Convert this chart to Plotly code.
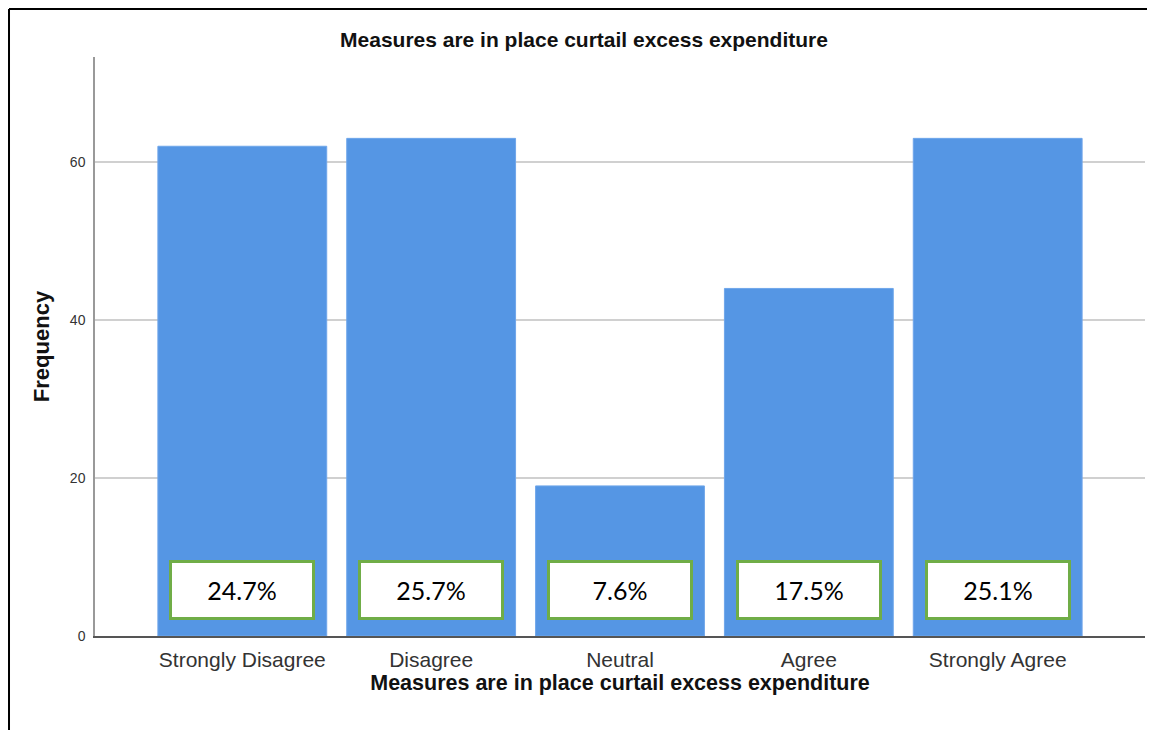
import plotly.graph_objects as go

categories = ["Strongly Disagree", "Disagree", "Neutral", "Agree", "Strongly Agree"]
frequencies = [62, 63, 19, 44, 63]
percent_labels = ["24.7%", "25.7%", "7.6%", "17.5%", "25.1%"]
y_ticks = [0, 20, 40, 60]

title_text = "Measures are in place curtail excess expenditure"
FONT = "Liberation Sans, Arial, sans-serif"

fig = go.Figure()
fig.add_trace(go.Bar(
    x=categories, y=frequencies,
    marker=dict(color="#5596E4", line=dict(color="#6FA6EA", width=1)),
    width=0.894,
))

for cat, lab in zip(categories, percent_labels):
    fig.add_annotation(
        x=cat, y=5.8, xref="x", yref="y", text=lab, showarrow=False,
        font=dict(family="Lato, Open Sans, sans-serif", size=25, color="#000000"),
        bgcolor="#FFFFFF", bordercolor="#70AD47", borderwidth=3, borderpad=0,
        width=140, height=54, align="center", valign="middle",
    )

# frame lines (left and top) of the original screenshot
fig.add_shape(type="line", xref="paper", yref="paper", x0=-0.0819, x1=-0.0819,
              y0=-0.2, y1=1.0829, line=dict(color="#000000", width=2))
fig.add_shape(type="line", xref="paper", yref="paper", x0=-0.0819, x1=1.01,
              y0=1.0829, y1=1.0829, line=dict(color="#000000", width=2))

fig.update_layout(
    width=1139, height=722,
    margin=dict(l=87, r=2, t=49, b=94),
    paper_bgcolor="#FFFFFF", plot_bgcolor="#FFFFFF",
    showlegend=False,
    bargap=0.106,
    title=dict(text="<b>" + title_text + "</b>", x=0.5057, xanchor="center",
               y=0.9557, yanchor="middle",
               font=dict(family=FONT, size=21, color="#111111")),
    xaxis=dict(
        range=[-0.78, 4.78],
        showline=True, linecolor="#555555", linewidth=1.5,
        ticks="", ticklabelstandoff=4,
        tickfont=dict(family=FONT, size=21, color="#333333"),
        title=dict(text="<b>" + title_text + "</b>", standoff=1,
                   font=dict(family=FONT, size=21.5, color="#111111")),
    ),
    yaxis=dict(
        range=[0, 73.3],
        tickvals=y_ticks, ticktext=[str(v) for v in y_ticks],
        showline=True, linecolor="#999999", linewidth=1.5,
        showgrid=True, gridcolor="#D0D0D0", gridwidth=1.5,
        zeroline=False, ticks="", ticklabelstandoff=5,
        tickfont=dict(family=FONT, size=14, color="#333333"),
        title=dict(text="<b>Frequency</b>", standoff=14,
                   font=dict(family=FONT, size=22, color="#111111")),
    ),
)

fig.write_html("out.html")
